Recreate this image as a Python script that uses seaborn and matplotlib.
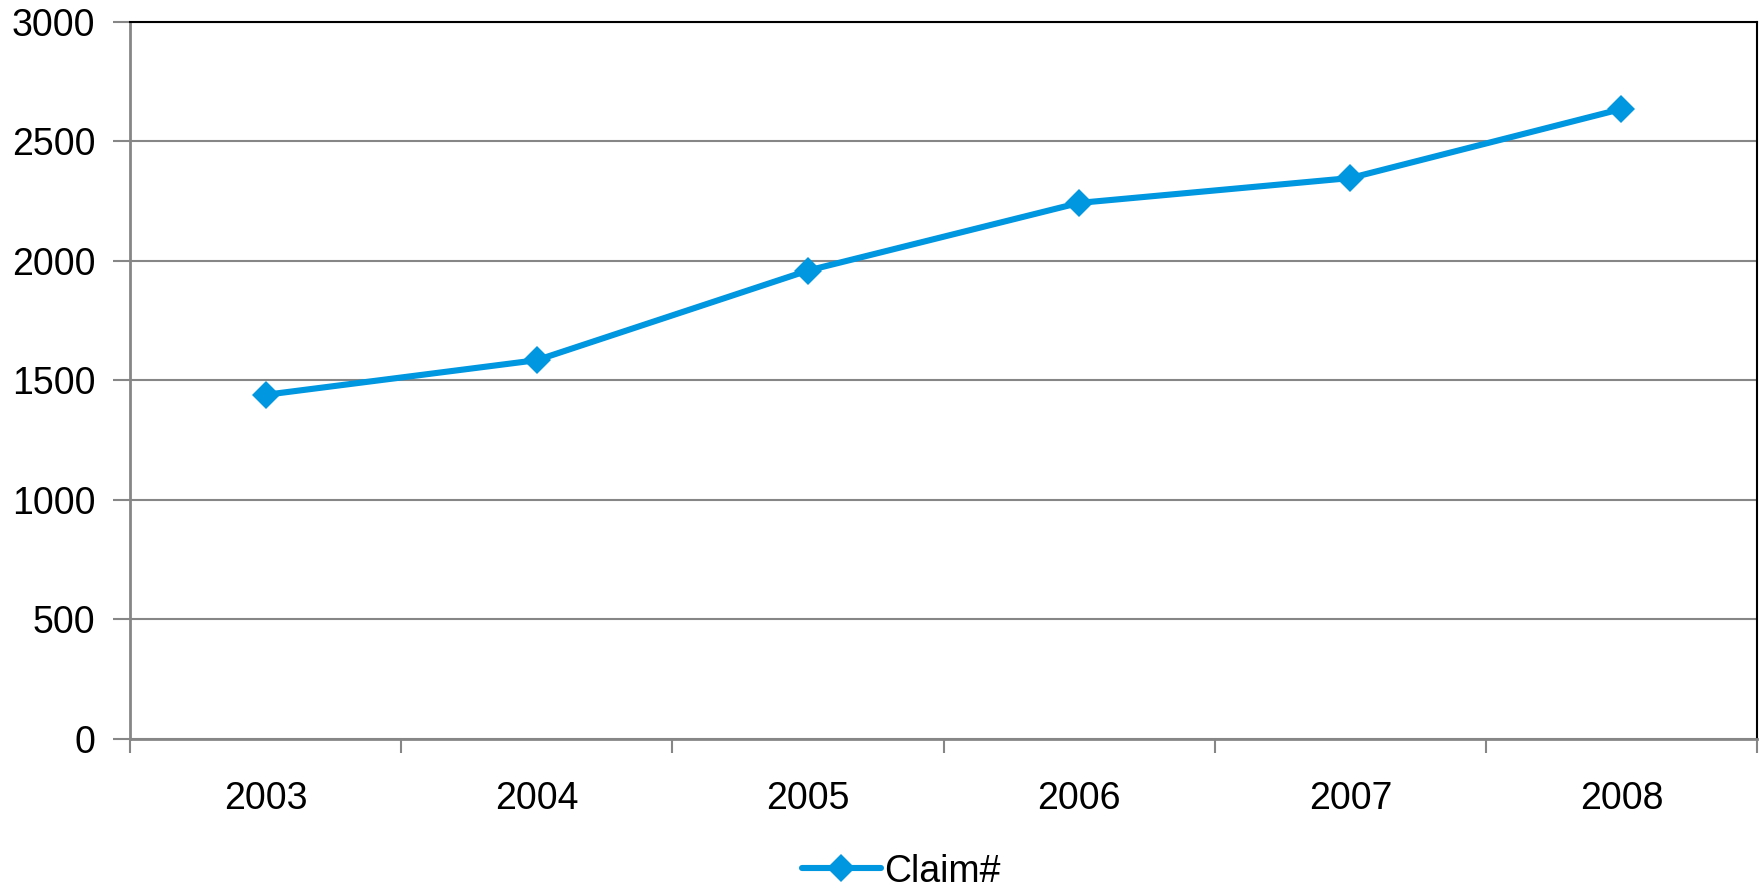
import matplotlib
matplotlib.use("Agg")
import matplotlib.pyplot as plt
import seaborn as sns
import pandas as pd
import numpy as np
from matplotlib.ticker import FixedLocator

years = ["2003", "2004", "2005", "2006", "2007", "2008"]
claims = [1440, 1585, 1960, 2243, 2347, 2636]
y_ticks = [0, 500, 1000, 1500, 2000, 2500, 3000]

sns.set_theme(style="white")
plt.rcParams["font.family"] = ["Liberation Sans", "DejaVu Sans"]

df = pd.DataFrame({"year": years, "Claim#": claims})
df["pos"] = np.arange(len(years))

fig = plt.figure(figsize=(17.65, 8.9), dpi=100)
ax = fig.add_axes([0.0737, 0.1697, 0.9218, 0.8056])

line_color = "#0096E0"
grid_color = "#868686"

sns.lineplot(data=df, x="pos", y="Claim#", ax=ax, color=line_color,
             linewidth=4.4, marker="D", markersize=14.5, markeredgewidth=0,
             label="Claim#")

ax.set_xlim(-0.5, len(years) - 0.5)
ax.set_ylim(0, 3000)
ax.set_xticks(df["pos"])
ax.set_xticklabels(years)
ax.xaxis.set_minor_locator(FixedLocator(np.arange(-0.5, len(years), 1.0)))
ax.tick_params(axis="x", which="major", length=0, labelsize=27, pad=30,
               labelcolor="black")
ax.tick_params(axis="x", which="minor", bottom=True, length=10, width=1.5,
               color=grid_color, direction="out")
ax.set_yticks(y_ticks)
ax.tick_params(axis="y", left=True, length=12, width=1.5, color=grid_color,
               labelsize=27, pad=13, labelcolor="black")

ax.yaxis.grid(True, color=grid_color, linewidth=1.5)
ax.set_axisbelow(True)
ax.set_xlabel("")
ax.set_ylabel("")

for side in ("left", "bottom"):
    ax.spines[side].set_color(grid_color)
    ax.spines[side].set_linewidth(2)
for side in ("top", "right"):
    ax.spines[side].set_color("black")
    ax.spines[side].set_linewidth(1.5)

leg = ax.legend(loc="center", bbox_to_anchor=(0.474, -0.185), frameon=False,
                fontsize=27, handlelength=2.1, handletextpad=0.1,
                borderaxespad=0, borderpad=0)
for t in leg.get_texts():
    t.set_color("black")

fig.savefig("out.png", dpi=100, facecolor="white")
